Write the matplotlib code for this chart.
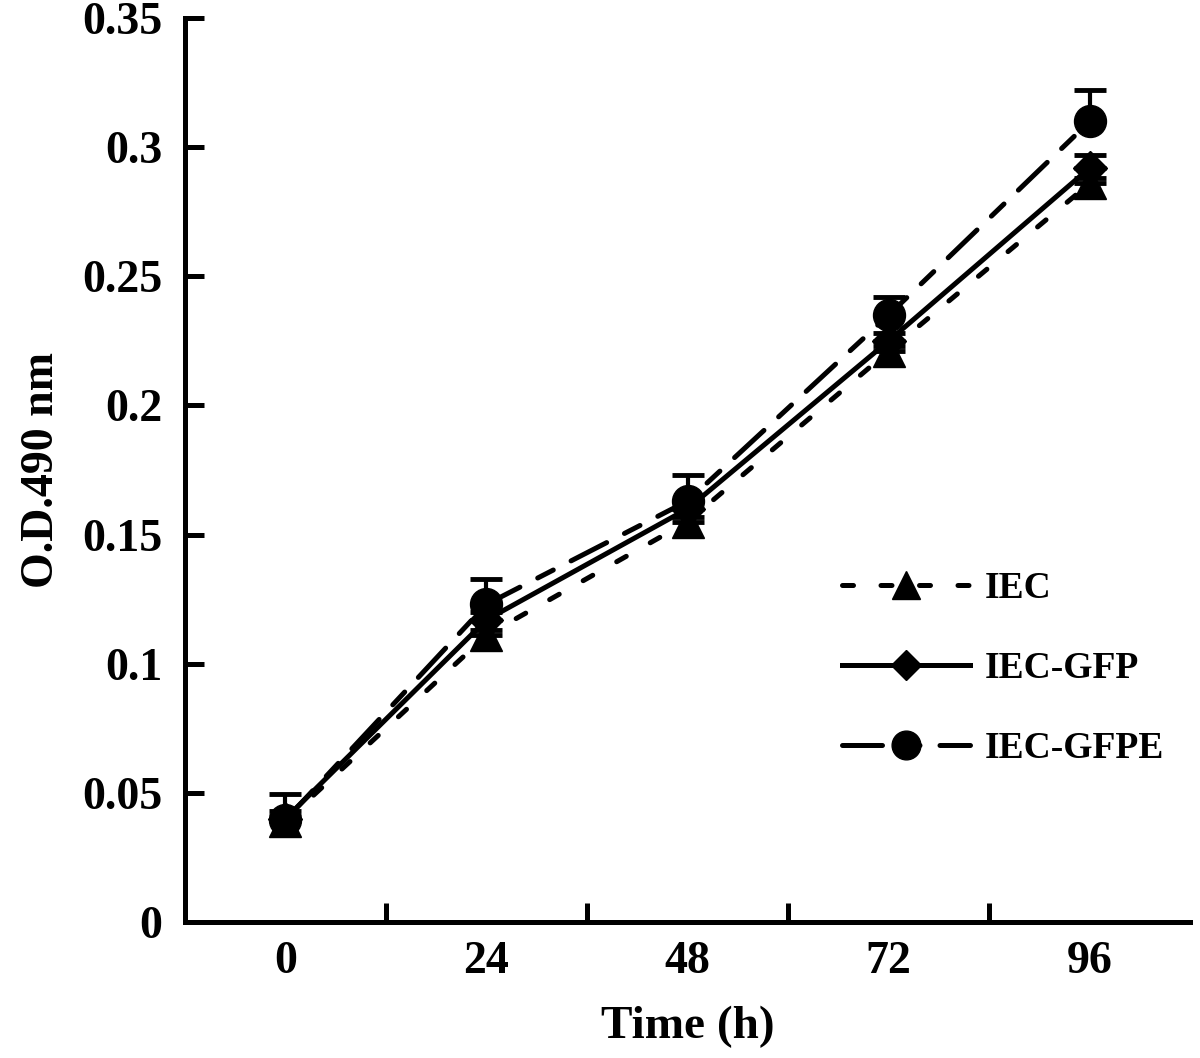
import matplotlib
matplotlib.use('Agg')
import matplotlib.pyplot as plt
import numpy as np

times = ['0', '24', '48', '72', '96']
iec = [0.039, 0.111, 0.155, 0.221, 0.286]
iec_gfp = [0.040, 0.117, 0.160, 0.225, 0.292]
iec_gfpe = [0.0395, 0.123, 0.163, 0.235, 0.310]
iec_err = [0.002, 0.002, 0.002, 0.002, 0.002]
iec_gfp_err = [0.003, 0.003, 0.003, 0.003, 0.005]
iec_gfpe_err = [0.010, 0.010, 0.010, 0.007, 0.012]

plt.rcParams['font.family'] = ['Liberation Serif', 'DejaVu Serif']
plt.rcParams['font.weight'] = 'bold'

fig = plt.figure(figsize=(12, 10.58), dpi=100)
ax = fig.add_axes([0.154, 0.1285, 0.838, 0.8545])
x = np.arange(len(times))
lw = 3.6

series = [
    ('IEC', iec, iec_err, '^', (0, (2.2, 5.5))),
    ('IEC-GFP', iec_gfp, iec_gfp_err, 'D', '-'),
    ('IEC-GFPE', iec_gfpe, iec_gfpe_err, 'o', (0, (8.0, 4.0, 3.5, 4.0))),
]
for name, vals, err, mk, ls in series:
    ms = 17 if mk == 'D' else 23
    ax.errorbar(x, vals, yerr=[np.zeros(len(vals)), err], fmt='none',
                ecolor='black', elinewidth=3, capsize=11.5, capthick=3.5)
    ax.plot(x, vals, color='black', linestyle=ls, linewidth=lw, marker=mk,
            markersize=ms, label=name, dash_capstyle='round')

ax.set_xlim(-0.5, 4.5)
ax.set_ylim(0, 0.35)
ax.set_yticks([0, 0.05, 0.1, 0.15, 0.2, 0.25, 0.3, 0.35])
ax.set_yticklabels(['0', '0.05', '0.1', '0.15', '0.2', '0.25', '0.3', '0.35'])
ax.set_xticks(x)
ax.set_xticklabels(times)
ax.set_xticks([0.5, 1.5, 2.5, 3.5], minor=True)
ax.tick_params(axis='x', which='major', length=0, pad=14, labelsize=33)
ax.tick_params(axis='x', which='minor', direction='in', length=14, width=3.6)
ax.tick_params(axis='y', direction='in', length=14, width=3.6, pad=16, labelsize=33)
for s in ['top', 'right']:
    ax.spines[s].set_visible(False)
for s in ['left', 'bottom']:
    ax.spines[s].set_linewidth(3.6)

ax.set_xlabel('Time (h)', fontsize=34, fontweight='bold', labelpad=16)
ax.set_ylabel('O.D.490 nm', fontsize=33, fontweight='bold', labelpad=14)

ax.legend(loc='center left', bbox_to_anchor=(0.62, 0.28), frameon=False,
          fontsize=27, handlelength=3.4, labelspacing=1.2, handletextpad=0.4,
          markerscale=0.9)

fig.savefig('out.png', dpi=100)
